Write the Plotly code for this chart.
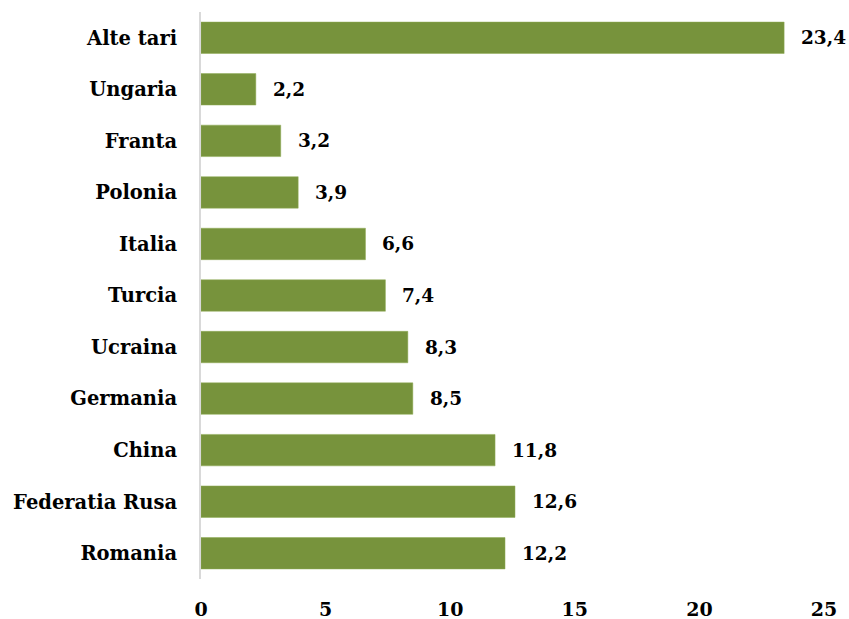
import plotly.graph_objects as go

# Country shares, listed bottom to top
countries = ["Romania", "Federatia Rusa", "China", "Germania", "Ucraina",
             "Turcia", "Italia", "Polonia", "Franta", "Ungaria", "Alte tari"]
values = [12.2, 12.6, 11.8, 8.5, 8.3, 7.4, 6.6, 3.9, 3.2, 2.2, 23.4]
x_ticks = [0, 5, 10, 15, 20, 25]

BAR_COLOR = "#77933C"
FONT = "DejaVu Serif"

fig = go.Figure(go.Bar(
    y=countries,
    x=values,
    orientation="h",
    marker=dict(color=BAR_COLOR, line=dict(color="#8FAA55", width=0.5)),
    width=0.61,
    hoverinfo="skip",
))

# value labels beside each bar, with comma decimals
for c, v in zip(countries, values):
    fig.add_annotation(
        x=v, y=c, text=f"{v:.1f}".replace(".", ","),
        xanchor="left", yanchor="middle", xshift=15, showarrow=False,
        font=dict(family=FONT, size=18.5, color="black", weight="bold"),
    )

fig.update_layout(
    width=849, height=619,
    margin=dict(l=201, r=25, t=12, b=40),
    paper_bgcolor="white", plot_bgcolor="white",
    showlegend=False,
    font=dict(family=FONT, size=18, color="black", weight="bold"),
)
fig.update_xaxes(
    range=[0, 25], tickvals=x_ticks, ticktext=[str(t) for t in x_ticks],
    showgrid=False, zeroline=False, showline=False, ticks="",
    ticklabelstandoff=17, automargin=False,
    tickfont=dict(family=FONT, size=19, color="black", weight="bold"),
)
fig.update_yaxes(
    categoryorder="array", categoryarray=countries,
    range=[-0.5, 10.5],
    showgrid=False, zeroline=False,
    showline=True, linecolor="#D9D9D9", linewidth=2,
    ticks="", ticklabelstandoff=18, automargin=False,
    tickfont=dict(family=FONT, size=19.5, color="black", weight="bold"),
)

fig.write_html("out.html")
